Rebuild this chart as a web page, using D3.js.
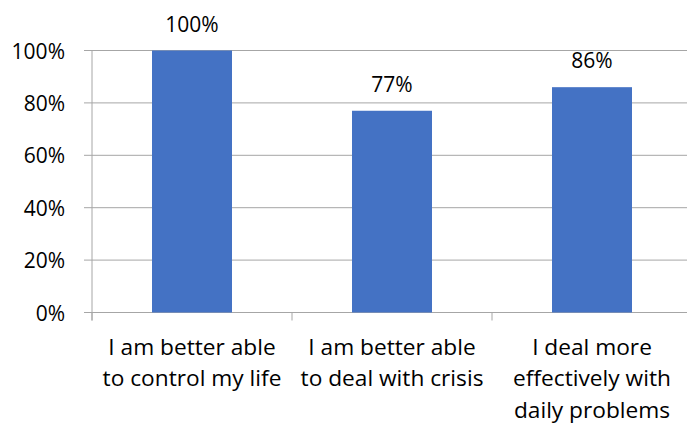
<!DOCTYPE html>
<html>
<head>
<meta charset="utf-8">
<script src="https://cdn.jsdelivr.net/npm/d3@7"></script>
<style>
  body { margin: 0; background: #fff; }
  text { font-family: "Open Sans", sans-serif; fill: #000; }
</style>
</head>
<body>
<div class="canvas"></div>
<script>
// Data
const categories = [
  ['I am better able', 'to control my life'],
  ['I am better able', 'to deal with crisis'],
  ['I deal more', 'effectively with', 'daily problems']
]
const values = [1.00, 0.77, 0.86]
const yTicks = [0, 0.2, 0.4, 0.6, 0.8, 1.0]

const fontSize = 21
const catFontSize = 22.7

const width = 687
const height = 426
const margin = { top: 50.5, right: -5, bottom: 113.5, left: 92 }
const graphWidth = width - margin.left - margin.right
const graphHeight = height - margin.top - margin.bottom

const svg = d3.select('.canvas')
  .append('svg')
  .attr('width', width)
  .attr('height', height)

const graph = svg.append('g')
  .attr('transform', `translate(${margin.left}, ${margin.top})`)

// Scales
const x = d3.scaleBand()
  .domain(d3.range(categories.length))
  .range([0, graphWidth])
  .paddingInner(0.6)
  .paddingOuter(0.3)

const y = d3.scaleLinear()
  .domain([0, 1])
  .range([graphHeight, 0])

// gridlines
graph.append('g')
  .selectAll('line')
  .data(yTicks)
  .enter()
  .append('line')
  .attr('x1', -8)
  .attr('x2', graphWidth)
  .attr('y1', d => y(d))
  .attr('y2', d => y(d))
  .attr('stroke', '#a6a6a6')
  .attr('stroke-width', 1)

// y axis line
graph.append('line')
  .attr('x1', 0).attr('x2', 0)
  .attr('y1', 0).attr('y2', graphHeight + 8)
  .attr('stroke', '#a6a6a6')

// category ticks
const step = x.step()
graph.append('g')
  .selectAll('line')
  .data(d3.range(categories.length + 1))
  .enter()
  .append('line')
  .attr('x1', i => i * step)
  .attr('x2', i => i * step)
  .attr('y1', graphHeight)
  .attr('y2', graphHeight + 8)
  .attr('stroke', '#a6a6a6')

// y tick labels
const yAxis = d3.axisLeft(y)
  .tickValues(yTicks)
  .tickFormat(d3.format('.0%'))
  .tickSize(0)
  .tickPadding(27)

const yAxisGroup = graph.append('g').call(yAxis)
yAxisGroup.select('.domain').remove()
yAxisGroup.selectAll('text')
  .attr('font-size', fontSize)
  .attr('font-family', null)
  .attr('fill', '#000')
  .attr('dy', '0.36em')

// bars
graph.selectAll('rect')
  .data(values)
  .enter()
  .append('rect')
  .attr('x', (d, i) => x(i))
  .attr('width', x.bandwidth())
  .attr('y', d => y(d))
  .attr('height', d => graphHeight - y(d))
  .attr('fill', '#4472c4')

// value labels
graph.selectAll('.value')
  .data(values)
  .enter()
  .append('text')
  .attr('class', 'value')
  .attr('x', (d, i) => x(i) + x.bandwidth() / 2)
  .attr('y', d => y(d) - 19)
  .attr('text-anchor', 'middle')
  .attr('font-size', fontSize)
  .text(d => d3.format('.0%')(d))

// category labels
const catGroup = graph.selectAll('.cat')
  .data(categories)
  .enter()
  .append('text')
  .attr('class', 'cat')
  .attr('text-anchor', 'middle')
  .attr('font-size', catFontSize)
  .attr('transform', (d, i) => `translate(${x(i) + x.bandwidth() / 2}, ${graphHeight + 42})`)

catGroup.selectAll('tspan')
  .data(d => d)
  .enter()
  .append('tspan')
  .attr('x', 0)
  .attr('y', (d, i) => i * 31.5)
  .text(d => d)
</script>
</body>
</html>
